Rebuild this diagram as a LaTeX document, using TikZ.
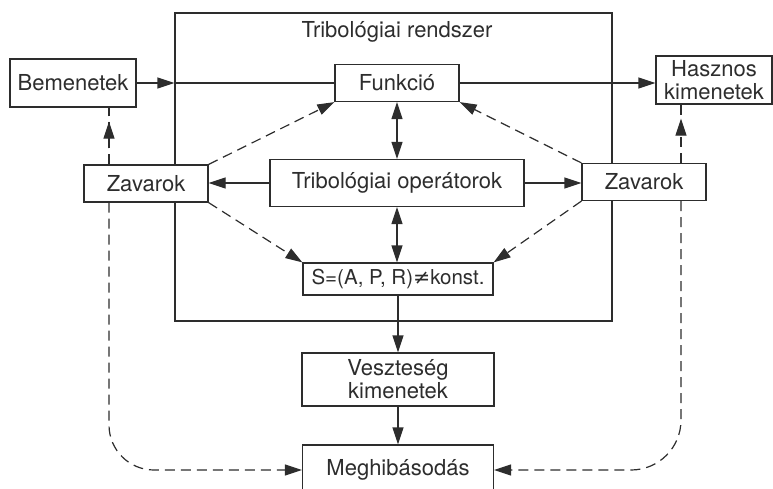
\documentclass[tikz,border=0pt]{standalone}
\usepackage{fontspec}
\setmainfont{TeX Gyre Heros}
\newfontfamily\symfont{DejaVu Sans}
\usetikzlibrary{arrows.meta,calc}
\definecolor{ink}{RGB}{45,45,45}
\begin{document}
\begin{tikzpicture}[x=1pt,y=-1pt,
  txt/.style={text=ink, font=\fontsize{22}{23}\selectfont, align=center, inner sep=0pt},
  box/.style={txt, draw=ink, line width=1.2pt, fill=white},
  ln/.style={draw=ink, line width=1.2pt},
  tip/.style={-{Triangle[length=17pt,width=11pt]}},
  arr/.style={ln, tip},
  darr/.style={ln, {Triangle[length=17pt,width=11pt]}-{Triangle[length=17pt,width=11pt]}},
  dsh/.style={ln, dash pattern=on 10pt off 6pt},
  darrow/.style={dsh, tip}
]
\useasboundingbox (0,0) rectangle (773,488);
\clip (0,0) rectangle (773,488);

% system boundary
\node[ln, minimum width=437pt, minimum height=308pt, inner sep=0pt] (sys) at (393.5,167) {};
\node[txt] (title) at (397,32) {Tribológiai rendszer};

% boxes
\node[box, minimum width=126pt, minimum height=48pt] (bem) at (73,83) {Bemenetek};
\node[box, minimum width=124pt, minimum height=37pt] (fun) at (397,83) {Funkció};
\node[box, minimum width=116pt, minimum height=48pt] (has) at (714,80) {Hasznos\\kimenetek};
\node[box, minimum width=124pt, minimum height=37pt] (zl) at (146,183.5) {Zavarok};
\node[box, minimum width=124pt, minimum height=37pt] (zr) at (644,182) {Zavarok};
\node[box, minimum width=254pt, minimum height=47pt] (op) at (397,183) {Tribológiai operátorok};
\node[box, minimum width=190pt, minimum height=32pt, font=\fontsize{20.5}{22}\selectfont] (S) at (398,279) {S=(A, P, R){\symfont ≠}konst.};
\node[box, minimum width=192pt, minimum height=53pt] (vesz) at (398,379.5) {Veszteség\\kimenetek};
\node[box, minimum width=191pt, minimum height=50pt] (megh) at (398,470) {Meghibásodás};

\coordinate (xl) at (109,0);
\coordinate (xr) at (681,0);

% solid connectors
\draw[arr] (bem.east) -- (bem.east -| sys.west);
\draw[ln] (bem.east -| sys.west) -- (fun.west);
\draw[arr] (fun.east) -- (fun.east -| has.west);
\draw[darr] (fun.south) -- (fun.south |- op.north);
\draw[arr] (op.west) -- (op.west -| zl.east);
\draw[arr] (op.east) -- (op.east -| zr.west);
\draw[darr] (op.south) -- (op.south |- S.north);
\draw[arr] (S.south) -- (S.south |- vesz.north);
\draw[arr] (vesz.south) -- (vesz.south |- megh.north);

% dashed diagonals
\draw[darrow] (zl.north east) -- (fun.south west);
\draw[darrow] (zl.south east) -- (S.north west);
\draw[darrow] (zr.north west) -- (fun.south east);
\draw[darrow] (zr.south west) -- (S.north east);

% dashed verticals to inputs/outputs
\draw[dsh] (zl.north -| xl) -- (bem.south -| xl);
\draw[darrow, shorten >=14pt] (zl.north -| xl) -- (bem.south -| xl);
\draw[dsh] (zr.north -| xr) -- (has.south -| xr);
\draw[darrow, shorten >=14pt] (zr.north -| xr) -- (has.south -| xr);

% dashed to failure
\draw[darrow, rounded corners=45pt] (zl.south -| xl) |- (megh.west);
\draw[darrow, rounded corners=50pt] (zr.south -| xr) |- (megh.east);
\end{tikzpicture}
\end{document}
